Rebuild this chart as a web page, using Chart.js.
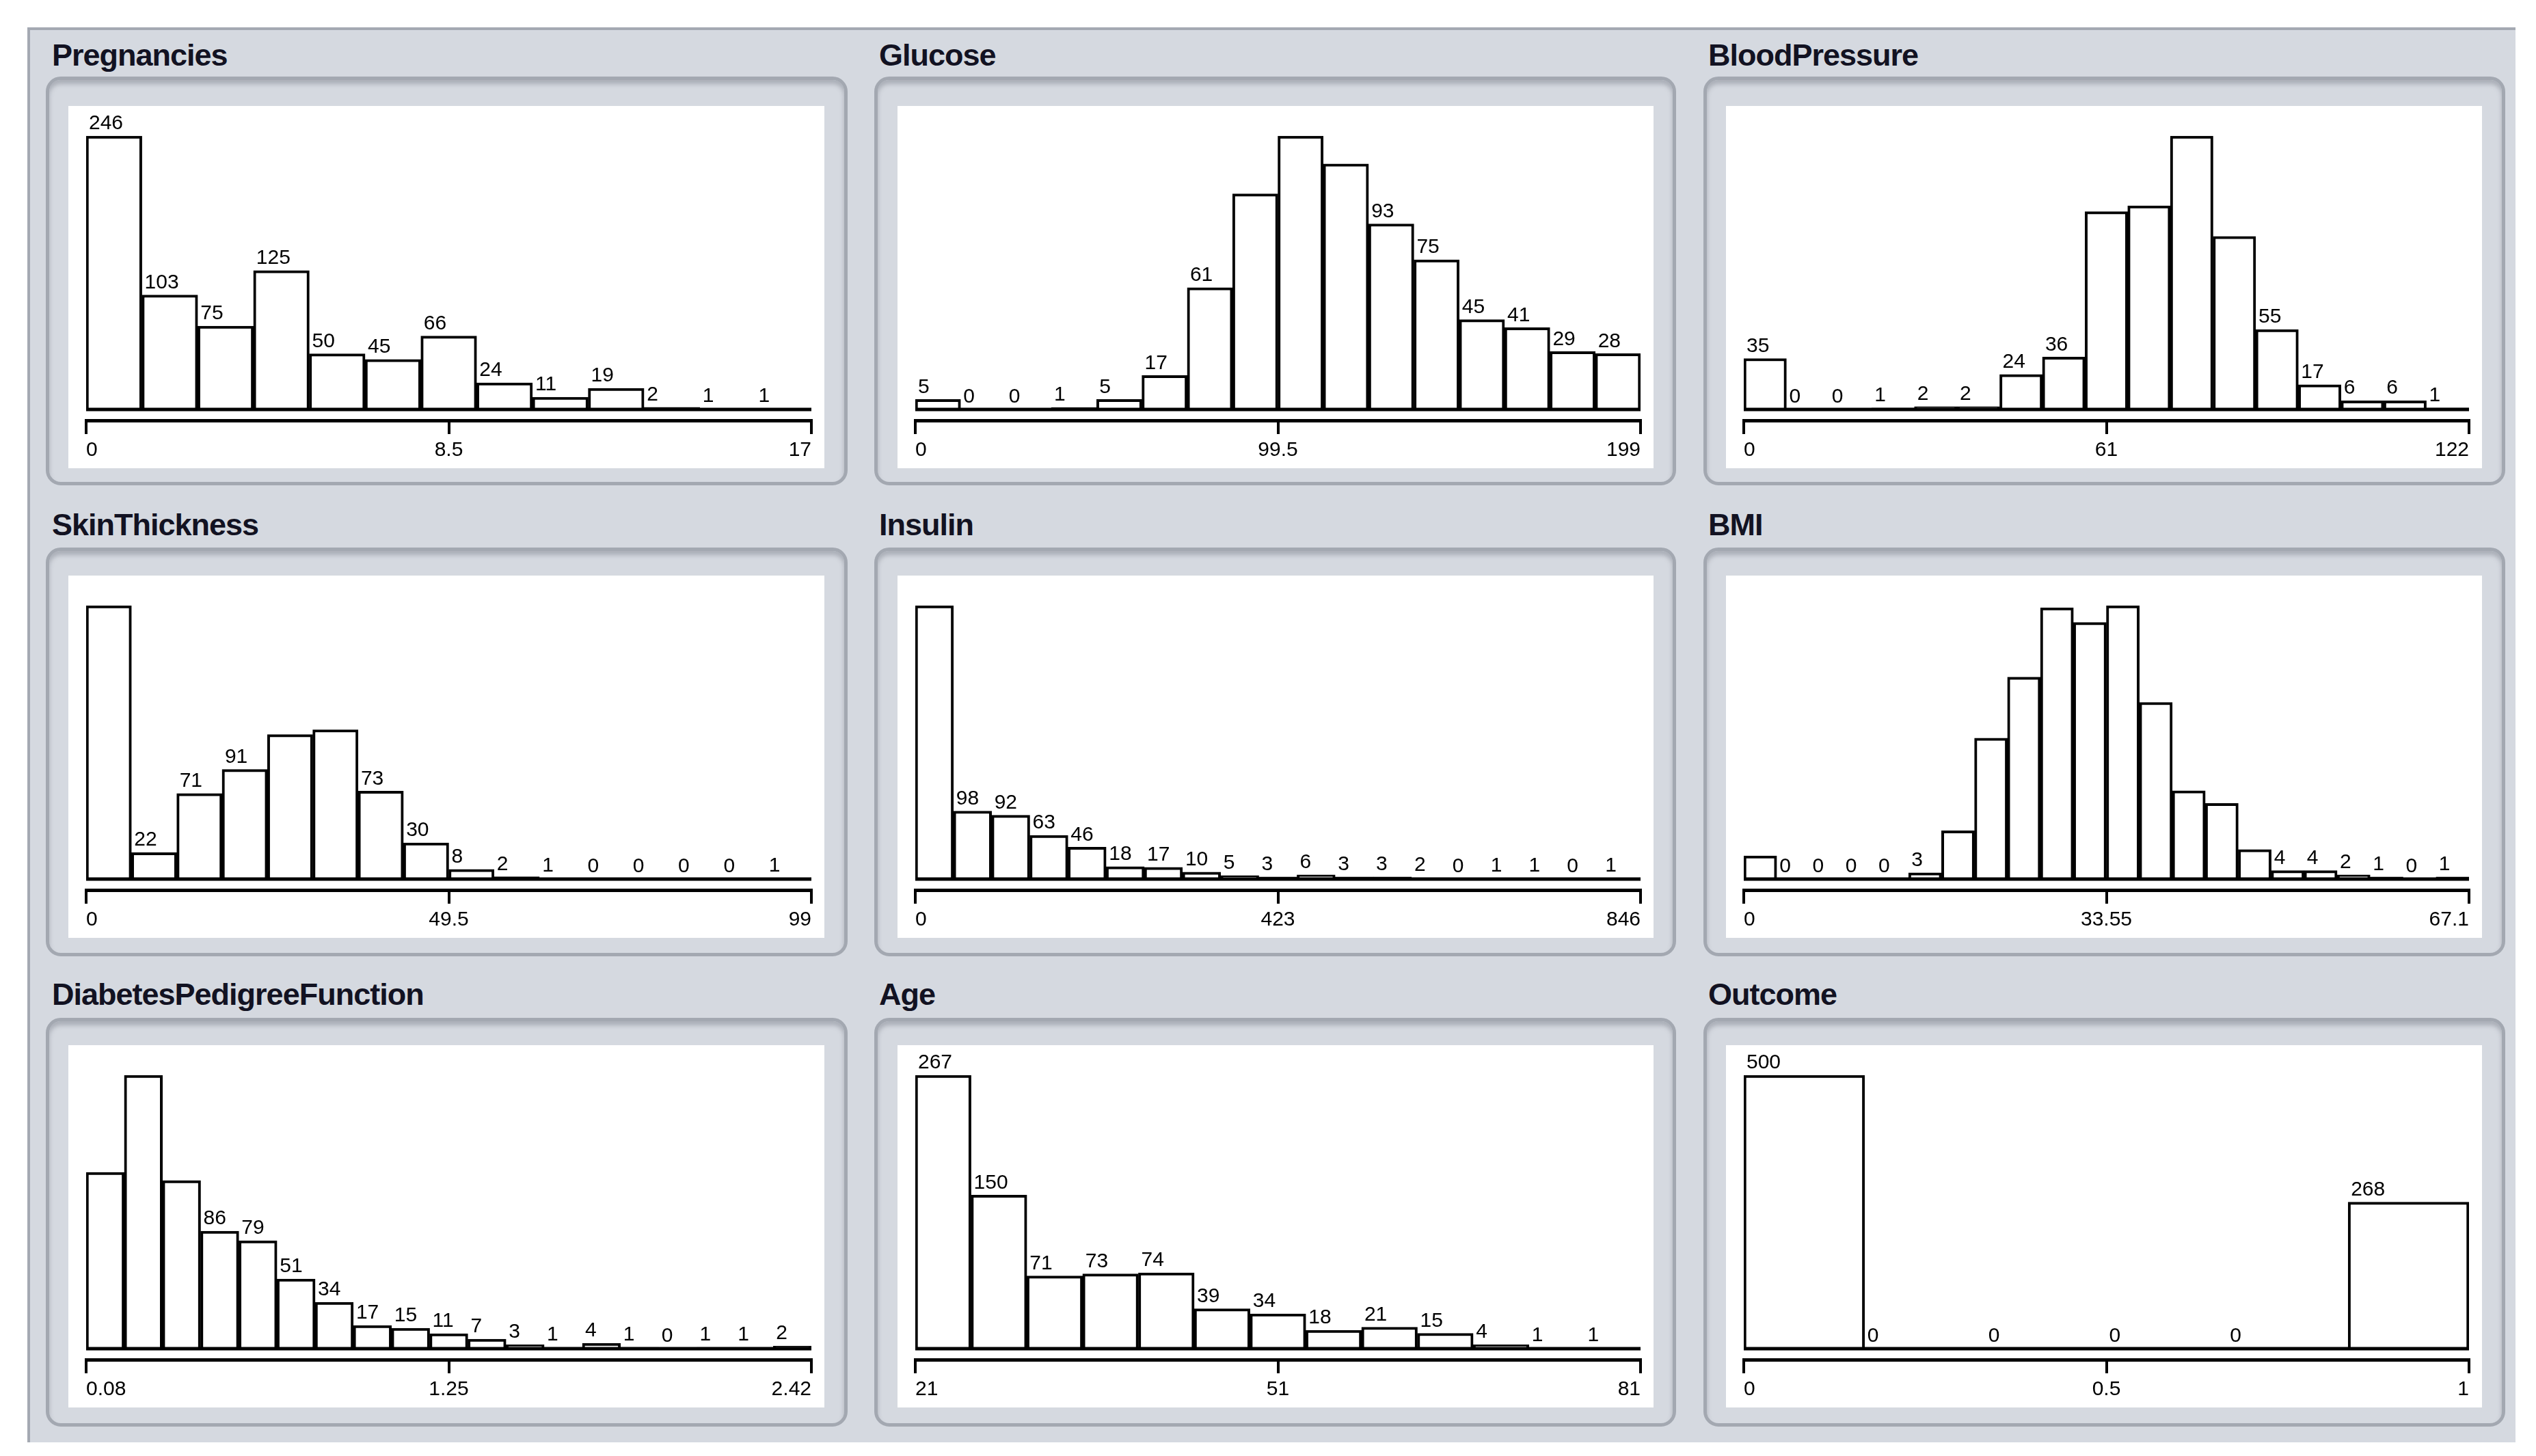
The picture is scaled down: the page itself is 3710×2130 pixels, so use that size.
<!DOCTYPE html>
<html><head><meta charset="utf-8">
<script src="https://cdn.jsdelivr.net/npm/chart.js@4.4.1/dist/chart.umd.min.js"></script>
<style>
html,body{margin:0;padding:0;background:#fff;}
#bg{position:absolute;left:40px;top:40px;width:3640px;height:2070px;background:#d5d9e0;border-top:4px solid #a4a9b2;border-left:4px solid #a4a9b2;box-sizing:border-box;}
.box{position:absolute;border-radius:22px;border:5px solid #a3a8b1;box-shadow:inset 0 6px 6px rgba(120,125,135,0.45);background:#d5d9e0;box-sizing:border-box;}
.white{position:absolute;background:#fff;}
.title{position:absolute;font-family:'Liberation Sans Narrow','Liberation Sans',sans-serif;font-weight:bold;font-size:45px;color:#121222;line-height:46px;letter-spacing:-1px;}
canvas{display:block;}
</style></head><body>
<div id="bg"></div>
<script>
const titles=["Pregnancies","Glucose","BloodPressure","SkinThickness","Insulin","BMI","DiabetesPedigreeFunction","Age","Outcome"];
const pregnancies=[246,103,75,125,50,45,66,24,11,19,2,1,1];
const glucose=[5,0,0,1,5,17,61,108,137,123,93,75,45,41,29,28];
const bloodPressure=[35,0,0,1,2,2,24,36,136,140,188,119,55,17,6,6,1];
const skinThickness=[227,22,71,91,120,124,73,30,8,2,1,0,0,0,0,1];
const insulin=[394,98,92,63,46,18,17,10,5,3,6,3,3,2,0,1,1,0,1];
const bmi=[11,0,0,0,0,3,23,67,96,129,122,130,84,42,36,14,4,4,2,1,0,1];
const dpf=[129,200,123,86,79,51,34,17,15,11,7,3,1,4,1,0,1,1,2];
const age=[267,150,71,73,74,39,34,18,21,15,4,1,1];
const outcome=[500,0,0,0,0,268];
const seriesList=[pregnancies,glucose,bloodPressure,skinThickness,insulin,bmi,dpf,age,outcome];
const rangeMin=[0,0,0,0,0,0,0.08,21,0];
const rangeMax=[17,199,122,99,846,67.1,2.42,81,1];
const tickLabels=[["0","8.5","17"],["0","99.5","199"],["0","61","122"],["0","49.5","99"],["0","423","846"],["0","33.55","67.1"],["0.08","1.25","2.42"],["21","51","81"],["0","0.5","1"]];
const unlabeled=[[],[7,8,9],[8,9,10,11],[0,4,5],[0],[0,6,7,8,9,10,11,12,13,14,15],[0,1,2],[],[]];

const colBox=[67,1279,2492], colWhite=[100,1313,2525], whiteW=1106, boxW=1173;
const rowBox=[112,801,1489], rowWhite=[155,842,1529], whiteH=530, boxH=598;
const titleX=[76,1286,2499], titleY=[58,745,1432];
const FONT="'Liberation Sans Narrow','Liberation Sans',sans-serif";

const lblPlugin={id:'lbl',afterDatasetsDraw(chart){
  const ctx=chart.ctx, idx=chart.options.plugins.lbl.idx, meta=chart.getDatasetMeta(0);
  const yb=chart.scales.y.getPixelForValue(0);
  ctx.save();
  ctx.strokeStyle='#000';ctx.lineWidth=5;
  ctx.beginPath();ctx.moveTo(chart.chartArea.left,yb);ctx.lineTo(chart.chartArea.right,yb);ctx.stroke();
  ctx.fillStyle='#000';ctx.font='30px '+FONT;ctx.textAlign='left';ctx.textBaseline='bottom';
  meta.data.forEach((el,i)=>{
    if(unlabeled[idx].includes(i))return;
    const l=el.x-el.width/2;
    ctx.fillText(String(seriesList[idx][i]),l+4,el.y-3);
  });
  ctx.restore();
}};

for(let k=0;k<9;k++){
  const r=Math.floor(k/3), c=k%3;
  const box=document.createElement('div');box.className='box';
  Object.assign(box.style,{left:colBox[c]+'px',top:rowBox[r]+'px',width:boxW+'px',height:boxH+'px'});
  document.body.appendChild(box);
  const t=document.createElement('div');t.className='title';t.textContent=titles[k];
  Object.assign(t.style,{left:titleX[c]+'px',top:titleY[r]+'px'});document.body.appendChild(t);
  const w=document.createElement('div');w.className='white';
  Object.assign(w.style,{left:colWhite[c]+'px',top:rowWhite[r]+'px',width:whiteW+'px',height:whiteH+'px'});
  const cv=document.createElement('canvas');cv.width=whiteW;cv.height=whiteH;
  cv.style.width=whiteW+'px';cv.style.height=whiteH+'px';
  w.appendChild(cv);document.body.appendChild(w);
  const vals=seriesList[k], n=vals.length, lo=rangeMin[k], hi=rangeMax[k], bw=(hi-lo)/n;
  const pts=vals.map((v,i)=>({x:lo+bw*(i+0.5),y:v}));
  const mx=Math.max(...vals);
  new Chart(cv,{type:'bar',
    data:{datasets:[{data:pts,backgroundColor:'#fff',borderColor:'#000',borderWidth:4,borderSkipped:'bottom',barPercentage:1,categoryPercentage:1}]},
    options:{responsive:false,animation:false,devicePixelRatio:1,
      layout:{padding:{left:26,right:19,top:0,bottom:2}},
      plugins:{legend:{display:false},tooltip:{enabled:false},lbl:{idx:k}},
      scales:{
        x:{type:'linear',min:lo,max:hi,offset:false,
          afterBuildTicks(s){s.ticks=[{value:lo},{value:(lo+hi)/2},{value:hi}];},
          ticks:{autoSkip:false,maxRotation:0,align:'inner',padding:6,color:'#000',font:{family:FONT,size:30},
            callback:(v,i)=>tickLabels[k][i]},
          grid:{offset:false,drawOnChartArea:false,drawTicks:true,tickLength:20,color:'#000',lineWidth:4},
          border:{display:true,color:'#000',width:5}},
        y:{display:false,min:-mx*0.04,max:mx*1.11}
      }},
    plugins:[lblPlugin]});
}
</script>
</body></html>
